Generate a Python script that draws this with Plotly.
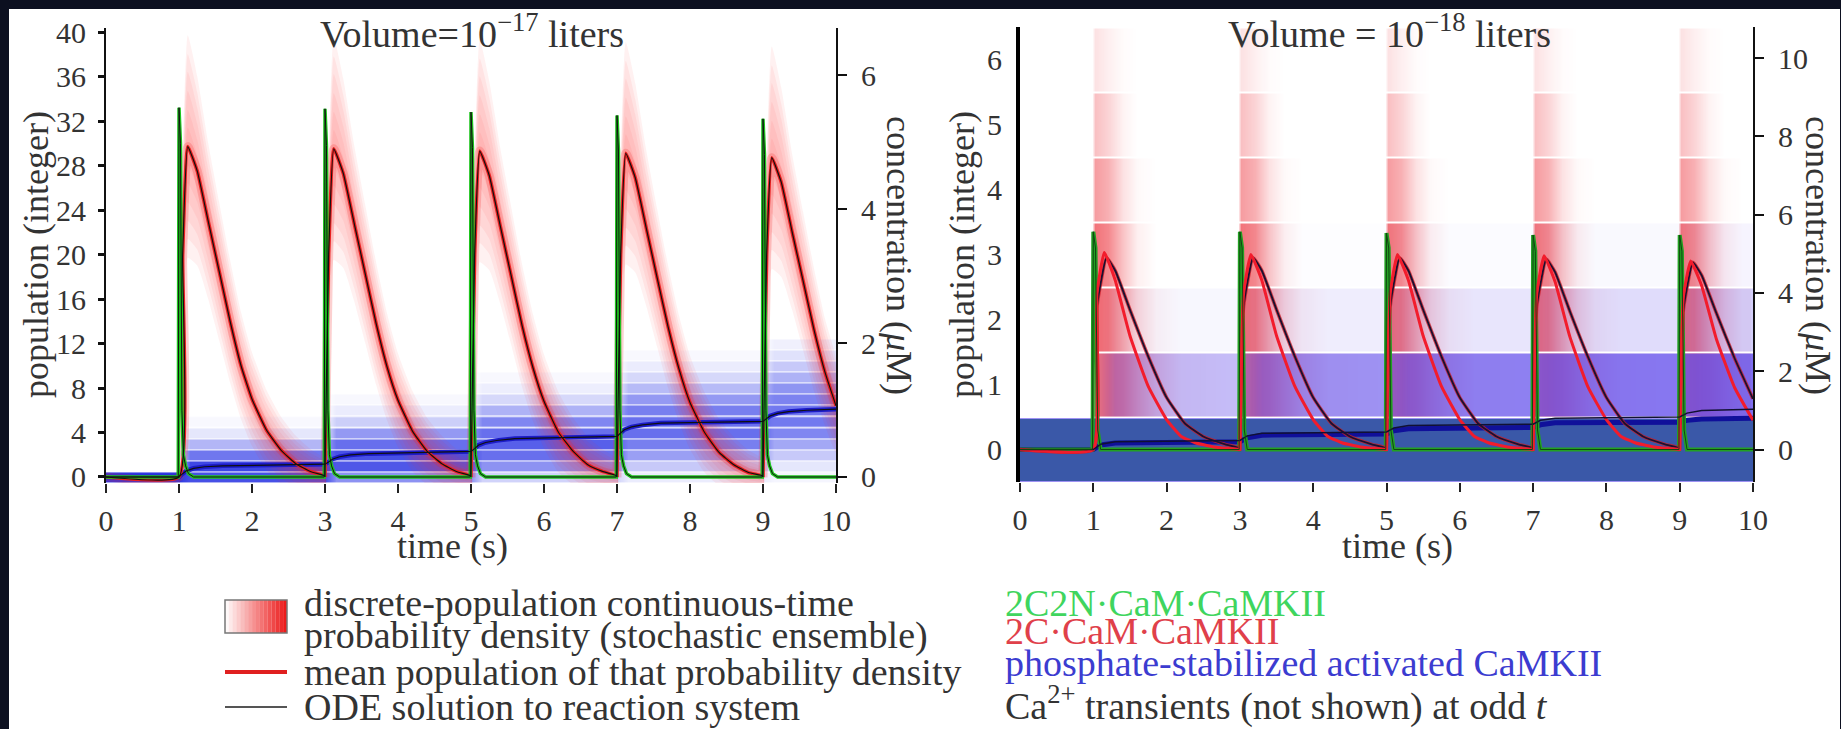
import plotly.graph_objects as go

W, H = 1841, 729
FONT = "Liberation Serif"
TXT = "#333333"

# ---------------- data ----------------
SPIKE_TIMES = [1, 3, 5, 7, 9]
T_END = 10.0
UM_PER_MOLECULE_L = 0.16605   # 1 molecule in 1e-17 L, in uM
UM_PER_MOLECULE_R = 1.6605    # 1 molecule in 1e-18 L, in uM

# ---- left panel (Volume = 1e-17 L) ----
GREEN_OFFSETS_L = [-0.01, 0.0, 0.02, 0.04, 0.06, 0.09, 0.13, 0.2]
GREEN_L = [
    [0, 33.2, 30.0, 6.0, 2.0, 1.0, 0.3, 0.0],
    [0, 33.1, 29.8, 6.0, 2.0, 1.0, 0.3, 0.0],
    [0, 32.8, 29.6, 6.0, 2.0, 1.0, 0.3, 0.0],
    [0, 32.5, 29.3, 6.0, 2.0, 1.0, 0.3, 0.0],
    [0, 32.2, 29.0, 6.0, 2.0, 1.0, 0.3, 0.0],
]
RED_OFFSETS_L = [0.0, 0.05, 0.12, 0.25, 0.4, 0.55, 0.7, 0.85, 1.0, 1.2, 1.4, 1.6, 1.8, 2.0]
RED_L = [
    [0, 20, 29.7, 27.5, 23.0, 18.5, 14.0, 10.0, 7.0, 4.2, 2.4, 1.2, 0.5, 0.1],
    [0, 20, 29.5, 27.3, 22.8, 18.3, 13.8, 9.9, 6.9, 4.1, 2.3, 1.2, 0.5, 0.1],
    [0, 20, 29.3, 27.1, 22.6, 18.1, 13.6, 9.8, 6.8, 4.0, 2.3, 1.1, 0.5, 0.1],
    [0, 20, 29.1, 26.9, 22.4, 17.9, 13.5, 9.7, 6.7, 4.0, 2.2, 1.1, 0.4, 0.1],
    [0, 20, 28.7, 26.5, 22.0, 17.6, 13.2, 9.4, 6.4],
]
RED_SPREAD_L = [3, 8, 10, 8.5, 7, 6.2, 5.5, 4.8, 4.2, 3.6, 3.0, 2.5, 2.0, 1.5]
BLUE_T_L = [0, 1.0, 1.05, 1.1, 1.2, 1.35, 1.6, 3.0, 3.05, 3.1, 3.2, 3.35, 3.6, 5.0, 5.05, 5.1, 5.2,
            5.35, 5.6, 7.0, 7.05, 7.1, 7.2, 7.35, 7.6, 9.0, 9.05, 9.1, 9.2, 9.35, 9.6, 10.0]
BLUE_L = [0, 0, 0.3, 0.55, 0.78, 0.92, 1.0, 1.15, 1.35, 1.6, 1.82, 1.98, 2.1, 2.3, 2.55, 2.85,
          3.1, 3.28, 3.45, 3.65, 3.95, 4.25, 4.5, 4.68, 4.85, 5.0, 5.25, 5.5, 5.72, 5.88, 6.0, 6.1]
# blue probability density: intensity per population row, per inter-spike segment
BLUE_DENS_KNOTS_L = [0, 1.0, 1.15, 3.0, 3.15, 5.0, 5.15, 7.0, 7.15, 9.0, 9.15, 10.0]
BLUE_DENS_L = [
    [1.0, 0.85, 0.45, 0.18, 0.08, 0.04],
    [0, 0.9, 0.8, 0.45, 0.22, 0.1],
    [0, 0.6, 0.85, 0.65, 0.4, 0.22],
    [0, 0.3, 0.65, 0.75, 0.55, 0.36],
    [0, 0.1, 0.42, 0.65, 0.65, 0.5],
    [0, 0.03, 0.2, 0.5, 0.65, 0.58],
    [0, 0, 0.08, 0.32, 0.55, 0.58],
    [0, 0, 0.03, 0.16, 0.42, 0.52],
    [0, 0, 0, 0.07, 0.28, 0.44],
    [0, 0, 0, 0.03, 0.16, 0.32],
    [0, 0, 0, 0, 0.08, 0.22],
    [0, 0, 0, 0, 0.03, 0.12],
    [0, 0, 0, 0, 0, 0.06],
]

# ---- right panel (Volume = 1e-18 L) ----
GREEN_OFFSETS_R = [-0.01, 0.0, 0.03, 0.06, 0.1]
GREEN_R = [
    [0, 3.35, 3.1, 0.3, 0],
    [0, 3.35, 3.1, 0.3, 0],
    [0, 3.33, 3.1, 0.3, 0],
    [0, 3.3, 3.05, 0.3, 0],
    [0, 3.3, 3.05, 0.3, 0],
]
RED_OFFSETS_R = [0.0, 0.05, 0.15, 0.3, 0.5, 0.75, 1.0, 1.2, 1.4, 1.7, 2.0]
RED_MEAN_R = [
    [0, 2.4, 3.03, 2.6, 1.75, 0.97, 0.46, 0.2, 0.1, 0.03, 0.0],
    [0, 2.4, 3.0, 2.6, 1.75, 0.97, 0.46, 0.2, 0.1, 0.03, 0.0],
    [0, 2.4, 3.0, 2.6, 1.75, 0.97, 0.46, 0.2, 0.1, 0.03, 0.0],
    [0, 2.4, 2.98, 2.58, 1.74, 0.96, 0.46, 0.2, 0.1, 0.03, 0.0],
    [0, 2.35, 2.9, 2.52, 1.7, 0.95, 0.45],
]
RED_ODE_OFFSETS_R = [0.0, 0.05, 0.18, 0.3, 0.5, 0.75, 1.0, 1.25, 1.5, 1.8, 2.0]
RED_ODE_R = [
    [0, 2.2, 2.95, 2.75, 2.15, 1.43, 0.8, 0.4, 0.2, 0.08, 0.02],
    [0, 2.2, 2.95, 2.75, 2.15, 1.43, 0.8, 0.4, 0.2, 0.08, 0.02],
    [0, 2.2, 2.95, 2.75, 2.15, 1.43, 0.8, 0.4, 0.2, 0.08, 0.02],
    [0, 2.2, 2.93, 2.73, 2.13, 1.42, 0.8, 0.4, 0.2, 0.08, 0.02],
    [0, 2.15, 2.88, 2.68, 2.1, 1.4, 0.78],
]
BLUE_T_R = [0, 1.0, 1.1, 1.3, 3.0, 3.1, 3.3, 5.0, 5.1, 5.3, 7.0, 7.1, 7.3, 9.0, 9.1, 9.3, 10.0]
BLUE_MEAN_R = [0, 0, 0.07, 0.1, 0.12, 0.18, 0.22, 0.24, 0.29, 0.32, 0.34, 0.38, 0.41, 0.42, 0.45, 0.47, 0.48]
BLUE_ODE_R = [0, 0, 0.08, 0.12, 0.14, 0.21, 0.25, 0.27, 0.33, 0.37, 0.39, 0.45, 0.48, 0.5, 0.56, 0.6, 0.62]
BLUE_DENS_KNOTS_R = [0, 1.0, 1.3, 3.0, 3.3, 5.0, 5.3, 7.0, 7.3, 9.0, 9.3, 10.0]
BLUE_DENS_R = [
    [1, 1, 1, 1, 1, 1],
    [0, 0.3, 0.5, 0.58, 0.62, 0.66],
    [0, 0.04, 0.08, 0.12, 0.16, 0.22],
    [0, 0, 0.01, 0.02, 0.03, 0.05],
    [0, 0, 0, 0, 0, 0],
    [0, 0, 0, 0, 0, 0],
    [0, 0, 0, 0, 0, 0],
]
RED_DENS_OFFSETS_R = [-0.02, 0.02, 0.2, 0.4, 0.6, 0.85, 1.2]
RED_DENS_R = [
    [0, 0, 0, 0, 0, 0, 0],
    [0, 0.7, 0.75, 0.65, 0.45, 0.22, 0.05],
    [0, 0.75, 0.7, 0.45, 0.2, 0.05, 0],
    [0, 0.7, 0.6, 0.3, 0.08, 0, 0],
    [0, 0.5, 0.4, 0.15, 0.03, 0, 0],
    [0, 0.32, 0.22, 0.06, 0, 0, 0],
    [0, 0.15, 0.08, 0.02, 0, 0, 0],
]

X_TICKS = list(range(0, 11))
POP_TICKS_L = list(range(0, 41, 4))
CONC_TICKS_L = [0, 2, 4, 6]
POP_TICKS_R = list(range(0, 7))
CONC_TICKS_R = [0, 2, 4, 6, 8, 10]


# ---------------- helpers ----------------
def spike_series(offsets, rows, start_zero=True, end_zero=True):
    xs, ys = ([0.0], [0.0]) if start_zero else ([], [])
    for s, vals in zip(SPIKE_TIMES, rows):
        for o, v in zip(offsets, vals):
            if s + o <= T_END:
                xs.append(s + o)
                ys.append(v)
    if end_zero and xs[-1] < T_END:
        xs.append(T_END)
        ys.append(0.0)
    return xs, ys


def expand_segments(seg_vals):
    return [v for v in seg_vals for _ in (0, 1)]


def band_grid(row_values, gap):
    nk = len(row_values[0])
    zero = [0.0] * nk
    ys, zs = [-0.5], [zero]
    for r, vals in enumerate(row_values):
        ys += [r - 0.5 + gap, r + 0.5 - gap, r + 0.5]
        zs += [vals, vals, zero]
    return ys, zs


def line(x, y, color, width, xa, ya, shape="linear", smoothing=None):
    ln = dict(color=color, width=width, shape=shape)
    if smoothing is not None:
        ln["smoothing"] = smoothing
    return go.Scatter(x=x, y=y, mode="lines", line=ln,
                      hoverinfo="skip", showlegend=False, xaxis=xa, yaxis=ya)


fig = go.Figure()

# ================= LEFT PANEL =================
# red density (soft fan around the mean)
for frac in [1.0, 0.83, 0.67, 0.5, 0.33, 0.17]:
    for s, vals in zip(SPIKE_TIMES, RED_L):
        n = len(vals)
        ts = [s + o for o in RED_OFFSETS_L[:n]]
        up = [m + frac * sp for m, sp in zip(vals, RED_SPREAD_L[:n])]
        lo = [m - frac * sp for m, sp in zip(vals, RED_SPREAD_L[:n])]
        fig.add_trace(go.Scatter(x=ts + ts[::-1], y=up + lo[::-1], fill="toself", mode="none",
                                 fillcolor="rgba(250,45,45,0.065)", hoverinfo="skip",
                                 line=dict(shape="spline", smoothing=0.5),
                                 showlegend=False, xaxis="x", yaxis="y"))

# blue density
yb, zb = band_grid([expand_segments(r) for r in BLUE_DENS_L], 0.1)
fig.add_trace(go.Heatmap(x=BLUE_DENS_KNOTS_L, y=yb, z=zb, zsmooth="best", zmin=0, zmax=1,
                         colorscale=[[0, "rgba(50,60,232,0)"], [0.5, "rgba(50,60,232,0.62)"],
                                     [1, "rgba(45,55,225,1)"]],
                         showscale=False, hoverinfo="skip", xaxis="x", yaxis="y"))

rx, ry = spike_series(RED_OFFSETS_L, RED_L)
gx, gy = spike_series(GREEN_OFFSETS_L, GREEN_L)
fig.add_trace(line(rx, ry, "rgba(240,40,40,0.22)", 9, "x", "y", "spline", 0.4))
fig.add_trace(line(BLUE_T_L, BLUE_L, "#1c1cc8", 4.5, "x", "y"))
fig.add_trace(line(rx, ry, "#e82020", 3.5, "x", "y", "spline", 0.4))
fig.add_trace(line(gx, gy, "#1fc41f", 3.5, "x", "y"))
# ODE solutions (coincide with the means at this volume)
fig.add_trace(line(rx, ry, "#111111", 1.2, "x", "y", "spline", 0.4))
fig.add_trace(line(gx, gy, "#111111", 1.0, "x", "y"))
fig.add_trace(line(BLUE_T_L, BLUE_L, "#111111", 1.2, "x", "y"))
# invisible anchor so the concentration axis is drawn
fig.add_trace(go.Scatter(x=[0], y=[0], mode="markers", marker=dict(opacity=0),
                         hoverinfo="skip", showlegend=False, xaxis="x", yaxis="y2"))

# ================= RIGHT PANEL =================
red_knots = [0.0]
for s in SPIKE_TIMES:
    red_knots += [s + o for o in RED_DENS_OFFSETS_R if s + o <= T_END]
red_rows = []
for vals in RED_DENS_R:
    row = [0.0]
    for s in SPIKE_TIMES:
        row += [v for o, v in zip(RED_DENS_OFFSETS_R, vals) if s + o <= T_END]
    red_rows.append(row)
yr, zr = band_grid(red_rows, 0.03)
fig.add_trace(go.Heatmap(x=red_knots, y=yr, z=zr, zsmooth="best", zmin=0, zmax=1,
                         colorscale=[[0, "rgba(235,35,45,0)"], [1, "rgba(235,35,45,0.9)"]],
                         showscale=False, hoverinfo="skip", xaxis="x2", yaxis="y3"))
yb, zb = band_grid([expand_segments(r) for r in BLUE_DENS_R], 0.03)
fig.add_trace(go.Heatmap(x=BLUE_DENS_KNOTS_R, y=yb, z=zb, zsmooth="best", zmin=0, zmax=1,
                         colorscale=[[0, "rgba(95,75,235,0)"], [0.7, "rgba(95,75,235,0.85)"],
                                     [1, "rgba(58,88,168,1)"]],
                         showscale=False, hoverinfo="skip", xaxis="x2", yaxis="y3"))

gx, gy = spike_series(GREEN_OFFSETS_R, GREEN_R)
rmx, rmy = spike_series(RED_OFFSETS_R, RED_MEAN_R)
rox, roy = spike_series(RED_ODE_OFFSETS_R, RED_ODE_R)
fig.add_trace(line(BLUE_T_R, BLUE_MEAN_R, "#10109a", 5, "x2", "y3"))
fig.add_trace(line(gx, gy, "#22a022", 4, "x2", "y3"))
fig.add_trace(line(rox, roy, "rgba(200,30,40,0.8)", 3.5, "x2", "y3", "spline", 0.4))
fig.add_trace(line(rox, roy, "#1a1030", 1.8, "x2", "y3", "spline", 0.4))
fig.add_trace(line(rmx, rmy, "#f21c2c", 3, "x2", "y3", "spline", 0.4))
fig.add_trace(line(BLUE_T_R, BLUE_ODE_R, "#111133", 1.5, "x2", "y3"))
fig.add_trace(line(gx, gy, "#114411", 1.0, "x2", "y3"))
fig.add_trace(go.Scatter(x=[0], y=[0], mode="markers", marker=dict(opacity=0),
                         hoverinfo="skip", showlegend=False, xaxis="x2", yaxis="y4"))

# ---------------- layout ----------------
tickfont = dict(family=FONT, size=30, color=TXT)
L_X = [106 / W, 836 / W]
R_X = [1020 / W, 1753 / W]
L_Y = [1 - 483 / H, 1 - 28 / H]
R_Y = [1 - 482 / H, 1 - 27 / H]
L_RANGE = [-0.54, 40.36]
R_RANGE = [-0.5, 6.5]

common_x = dict(range=[0, T_END], tickvals=X_TICKS, ticks="outside", ticklen=9, tickwidth=2,
                tickcolor="#222", showline=False, showgrid=False, zeroline=False,
                tickfont=tickfont, ticklabelstandoff=2, fixedrange=True, automargin=False)
common_y = dict(showgrid=False, zeroline=False, tickfont=tickfont, automargin=False,
                fixedrange=True)
fig.update_layout(
    width=W, height=H, margin=dict(l=0, r=0, t=0, b=0, pad=0, autoexpand=False),
    paper_bgcolor="#0c1020", plot_bgcolor="white",
    xaxis=dict(domain=L_X, anchor="y", **common_x),
    yaxis=dict(domain=L_Y, range=L_RANGE, anchor="x", tickvals=POP_TICKS_L, ticks="outside",
               ticklen=6, tickwidth=3, tickcolor="#111", showline=True, linecolor="#111",
               linewidth=2, ticklabelstandoff=6, **common_y),
    yaxis2=dict(overlaying="y", side="right", anchor="x",
                range=[v * UM_PER_MOLECULE_L for v in L_RANGE], tickvals=CONC_TICKS_L,
                ticks="outside", ticklen=9, tickwidth=2, tickcolor="#111", showline=True,
                linecolor="#111", linewidth=2, ticklabelstandoff=8, **common_y),
    xaxis2=dict(domain=R_X, anchor="y3", **common_x),
    yaxis3=dict(domain=R_Y, range=R_RANGE, anchor="x2", tickvals=POP_TICKS_R, ticks="",
                showline=True, linecolor="#000", linewidth=4, ticklabelstandoff=8, **common_y),
    yaxis4=dict(overlaying="y3", side="right", anchor="x2",
                range=[v * UM_PER_MOLECULE_R for v in R_RANGE], tickvals=CONC_TICKS_R,
                ticks="outside", ticklen=9, tickwidth=2, tickcolor="#111", showline=True,
                linecolor="#111", linewidth=2, ticklabelstandoff=8, **common_y),
)

shapes = [dict(type="rect", xref="paper", yref="paper", x0=9 / W, x1=1840 / W, y0=0, y1=1 - 9 / H,
               fillcolor="white", line=dict(width=0), layer="below")]
# legend swatch: white-to-red gradient box
sw_x0, sw_x1, sw_y0, sw_y1 = 225, 287, 600, 633
n_steps = 16
for i in range(n_steps):
    a = (i + 0.5) / n_steps
    shapes.append(dict(type="rect", xref="paper", yref="paper",
                       x0=(sw_x0 + (sw_x1 - sw_x0) * i / n_steps) / W,
                       x1=(sw_x0 + (sw_x1 - sw_x0) * (i + 1) / n_steps) / W,
                       y0=1 - sw_y1 / H, y1=1 - sw_y0 / H,
                       fillcolor=f"rgba(235,20,20,{a:.3f})", line=dict(width=0)))
shapes.append(dict(type="rect", xref="paper", yref="paper", x0=sw_x0 / W, x1=sw_x1 / W,
                   y0=1 - sw_y1 / H, y1=1 - sw_y0 / H, line=dict(color="#777", width=1.5)))
shapes.append(dict(type="line", xref="paper", yref="paper", x0=225 / W, x1=287 / W,
                   y0=1 - 672 / H, y1=1 - 672 / H, line=dict(color="#e02020", width=4)))
shapes.append(dict(type="line", xref="paper", yref="paper", x0=225 / W, x1=287 / W,
                   y0=1 - 707 / H, y1=1 - 707 / H, line=dict(color="#555", width=2)))
fig.update_layout(shapes=shapes)


def ann(text, px, py, size=38, color=TXT, angle=0, xanchor="center"):
    return dict(text=text, x=px / W, y=1 - py / H, xref="paper", yref="paper", showarrow=False,
                font=dict(family=FONT, size=size, color=color), textangle=angle,
                xanchor=xanchor, yanchor="middle")


annotations = [
    ann("Volume=10<sup>−17</sup> liters", 472, 31),
    ann("Volume = 10<sup>−18</sup> liters", 1389, 31),
    ann("time (s)", 452, 546, size=36),
    ann("time (s)", 1397, 546, size=36),
    ann("population (integer)", 36, 255, size=36, angle=-90),
    ann("concentration (<i>μ</i>M)", 899, 255, size=36, angle=90),
    ann("population (integer)", 962, 255, size=36, angle=-90),
    ann("concentration (<i>μ</i>M)", 1818, 255, size=36, angle=90),
    ann("discrete-population continuous-time", 302, 603, xanchor="left"),
    ann("probability density (stochastic ensemble)", 302, 635, xanchor="left"),
    ann("mean population of that probability density", 302, 672, xanchor="left"),
    ann("ODE solution to reaction system", 302, 707, xanchor="left"),
    ann("2C2N·CaM·CaMKII", 1003, 603, color="#3fd55e", xanchor="left"),
    ann("2C·CaM·CaMKII", 1003, 631, color="#e0404a", xanchor="left"),
    ann("phosphate-stabilized activated CaMKII", 1003, 663, color="#3c3cd0", xanchor="left"),
    ann("Ca<sup>2+</sup> transients (not shown) at odd <i>t</i>", 1003, 703, xanchor="left"),
]
fig.update_layout(annotations=annotations)

fig.write_html(
    "out.html",
    config={"displayModeBar": False, "staticPlot": True},
    post_script="document.body.style.margin='0';document.body.style.overflow='hidden';",
)
